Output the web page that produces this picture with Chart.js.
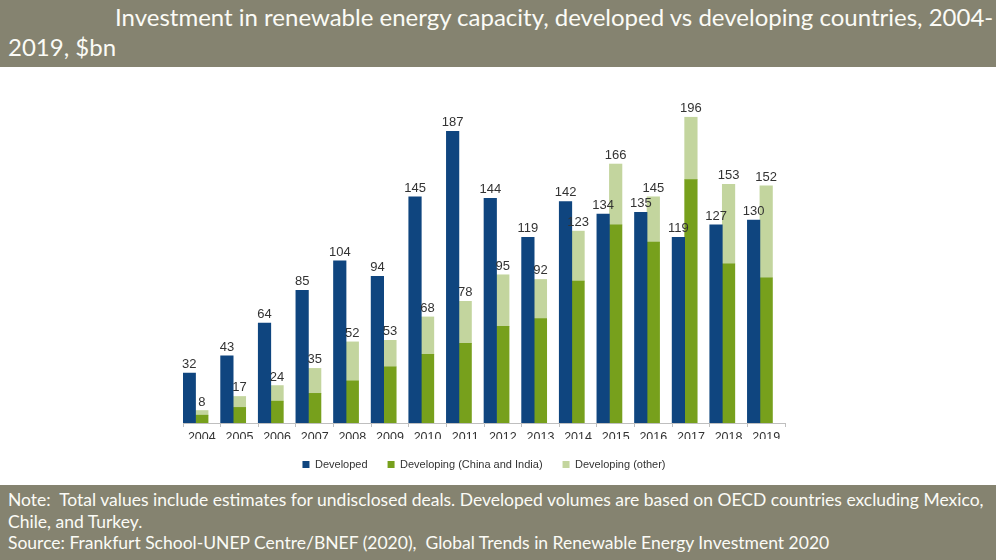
<!DOCTYPE html>
<html>
<head>
<meta charset="utf-8">
<script src="https://cdn.jsdelivr.net/npm/chart.js@4.4.1/dist/chart.umd.min.js"></script>
<style>
  html, body { margin: 0; padding: 0; background: #fff; }
  #page { position: relative; width: 996px; height: 560px; overflow: hidden; }
  .band { position: absolute; left: 0; width: 996px; background: #858370; color: #fbfbf6;
          font-family: Lato, "Open Sans", sans-serif; white-space: nowrap; }
  .band div { position: absolute; }
  #head { top: 0; height: 67px; font-size: 24px; line-height: 24px; }
  #foot { top: 485px; height: 75px; font-size: 17.5px; line-height: 17.5px; }
  #chartBox { position: absolute; left: 0; top: 67px; width: 996px; height: 418px; }
</style>
</head>
<body>
<div id="page">
  <div class="band" id="head">
    <div style="left:115px; top:5px;">Investment in renewable energy capacity, developed vs developing countries, 2004-</div>
    <div style="left:8px; top:35px;">2019, $bn</div>
  </div>
  <div id="chartBox"><canvas id="investChart"></canvas></div>
  <div class="band" id="foot">
    <div style="left:8px; top:6px;">Note:&nbsp; Total values include estimates for undisclosed deals. Developed volumes are based on OECD countries excluding Mexico,</div>
    <div style="left:8px; top:28px;">Chile, and Turkey.</div>
    <div style="left:8px; top:49px;">Source: Frankfurt School-UNEP Centre/BNEF (2020),&nbsp; Global Trends in Renewable Energy Investment 2020</div>
  </div>
</div>
<script>
// values, $bn
const years = ["2004", "2005", "2006", "2007", "2008", "2009", "2010", "2011",
               "2012", "2013", "2014", "2015", "2016", "2017", "2018", "2019"];
const developed = [32, 43, 64, 85, 104, 94, 145, 187, 144, 119, 142, 134, 135, 119, 127, 130];
const developingTotal = [8, 17, 24, 35, 52, 53, 68, 78, 95, 92, 123, 166, 145, 196, 153, 152];
const chinaIndia = [5, 10, 14, 19, 27, 36, 44, 51, 62, 67, 91, 127, 116, 156, 102, 93];
const developingOther = developingTotal.map((t, i) => t - chinaIndia[i]);

const labelFont = '13px "Liberation Sans", Arial, sans-serif';

// numbers above the developed bars and above the developing stacks
const valueLabels = {
  id: "valueLabels",
  afterDatasetsDraw(chart) {
    const ctx = chart.ctx;
    ctx.save();
    ctx.font = labelFont;
    ctx.fillStyle = "#333333";
    ctx.textAlign = "center";
    ctx.textBaseline = "alphabetic";
    chart.getDatasetMeta(0).data.forEach((bar, i) => ctx.fillText(developed[i], bar.x, bar.y - 5));
    chart.getDatasetMeta(2).data.forEach((bar, i) => ctx.fillText(developingTotal[i], bar.x, bar.y - 5));
    ctx.restore();
  }
};

const ctx = document.getElementById("investChart").getContext("2d");
new Chart(ctx, {
  type: "bar",
  data: {
    labels: years,
    datasets: [
      { label: "Developed", data: developed, backgroundColor: "#0F457F", stack: "dev" },
      { label: "Developing (China and India)", data: chinaIndia, backgroundColor: "#77A01C", stack: "ing" },
      { label: "Developing (other)", data: developingOther, backgroundColor: "#C3D59E", stack: "ing" },
      // empty slot so the pair of bars sits on the left of each category
      { label: "", data: years.map(() => null), stack: "pad" }
    ]
  },
  options: {
    responsive: true,
    maintainAspectRatio: false,
    animation: false,
    layout: { padding: { left: 183, right: 211, top: 44, bottom: 5 } },
    datasets: { bar: { categoryPercentage: 1, barPercentage: 1, borderWidth: 0 } },
    plugins: {
      tooltip: { enabled: false },
      legend: {
        position: "bottom",
        labels: {
          filter: item => item.datasetIndex < 3,
          boxWidth: 7,
          boxHeight: 7,
          padding: 20,
          color: "#333333",
          font: { family: '"Liberation Sans", Arial, sans-serif', size: 11 }
        }
      }
    },
    scales: {
      x: {
        stacked: true,
        grid: { display: true, drawOnChartArea: false, drawTicks: true, tickLength: 4, color: "#BFBFBF", offset: true },
        border: { color: "#BFBFBF" },
        ticks: { color: "#333333", padding: 3, maxRotation: 0, autoSkip: false,
                 font: { family: '"Liberation Sans", Arial, sans-serif', size: 12.5 } },
        afterFit: scale => { scale.height = 16; }
      },
      y: { stacked: true, display: false, min: 0, max: 200 }
    }
  },
  plugins: [valueLabels]
});
</script>
</body>
</html>
